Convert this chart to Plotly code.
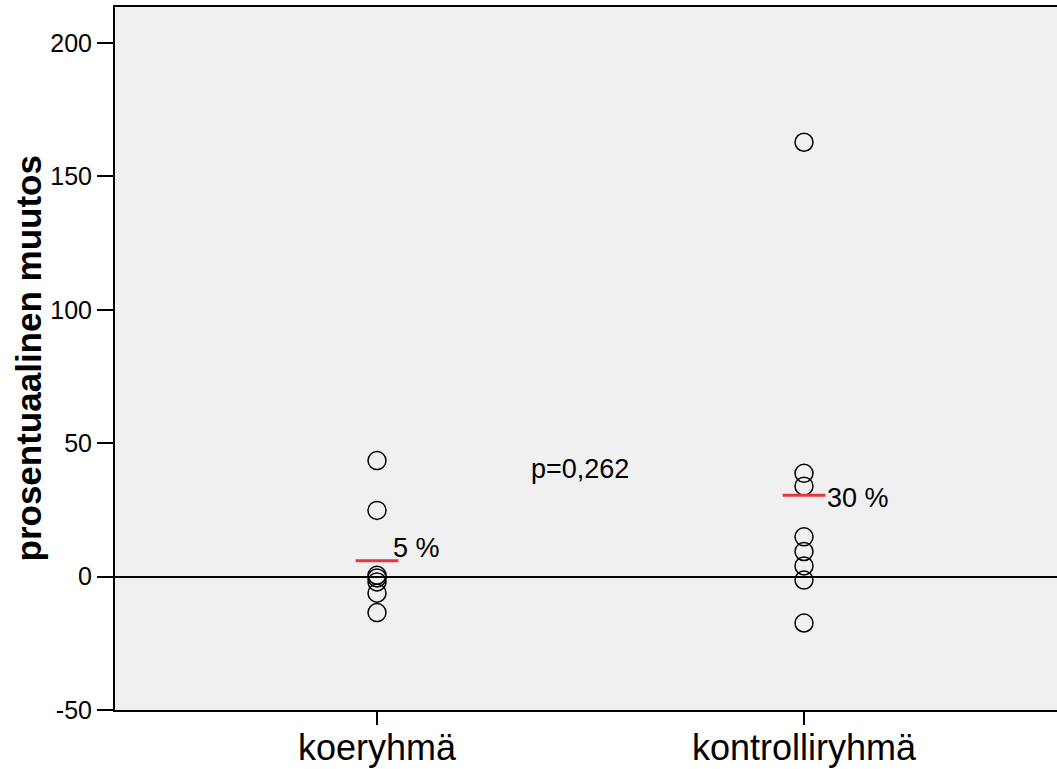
import plotly.graph_objects as go

categories = ["koeryhmä", "kontrolliryhmä"]
koe_values = [43.5, 24.8, 0.5, -0.5, -2.0, -6.2, -13.5]
kontrolli_values = [162.8, 38.7, 33.9, 14.9, 9.4, 4.0, -1.3, -17.4]
group_means = [5.9, 30.5]
mean_labels = ["5 %", "30 %"]
p_label = "p=0,262"
y_ticks = [-50, 0, 50, 100, 150, 200]
y_title = "prosentuaalinen muutos"

FONT = "Liberation Sans, Arial, sans-serif"
W, H = 1057, 769
ML, MR, MT, MB = 115, 0, 7, 59
PW = W - ML - MR
PH = H - MT - MB

fig = go.Figure()

for i, vals in enumerate([koe_values, kontrolli_values]):
    fig.add_trace(go.Scatter(
        x=[i] * len(vals), y=vals, mode="markers",
        marker=dict(symbol="circle-open", size=18, color="black",
                    line=dict(width=1.5, color="black")),
        showlegend=False, hoverinfo="y"))

half = 0.05
label_xshift = [-7, 0]
label_yanchor = ["bottom", "middle"]
label_yshift = [-4, -3]
for i, m in enumerate(group_means):
    fig.add_trace(go.Scatter(
        x=[i - half, i + half], y=[m, m], mode="lines",
        line=dict(color="#e8343f", width=3),
        showlegend=False, hoverinfo="skip"))
    fig.add_annotation(x=i + half, y=m, text=mean_labels[i],
                       xanchor="left", yanchor=label_yanchor[i],
                       showarrow=False, xshift=label_xshift[i], yshift=label_yshift[i],
                       font=dict(family=FONT, size=27, color="black"))

fig.add_annotation(x=0.475, y=40.3, text=p_label, showarrow=False,
                   xanchor="center", yanchor="middle",
                   font=dict(family=FONT, size=27, color="black"))

# category labels
for i, c in enumerate(categories):
    fig.add_annotation(x=i, xref="x", y=-15 / PH,
                       yref="paper", text=c, showarrow=False,
                       xanchor="center", yanchor="top",
                       font=dict(family=FONT, size=36, color="black"))

# y axis title
fig.add_annotation(x=(28 - ML) / PW, xref="paper", y=0.5, yref="paper",
                   text="<b>" + y_title + "</b>", textangle=-90, showarrow=False,
                   xanchor="center", yanchor="middle",
                   font=dict(family=FONT, size=35, color="black"))

fig.update_layout(
    width=W, height=H,
    margin=dict(l=ML, r=MR, t=MT, b=MB),
    paper_bgcolor="white", plot_bgcolor="#f0f0f0",
    font=dict(family=FONT, color="black"),
    xaxis=dict(
        range=[-0.6136, 1.5925], tickvals=[0, 1], ticktext=["", ""],
        showgrid=False, zeroline=False, automargin=False,
        showline=True, linecolor="black", linewidth=2, mirror=True,
        ticks="outside", ticklen=13, tickwidth=1.5, tickcolor="black",
    ),
    yaxis=dict(
        range=[-50, 213.5], tickvals=y_ticks, ticktext=[str(v) for v in y_ticks],
        showgrid=False, automargin=False,
        zeroline=True, zerolinecolor="black", zerolinewidth=1.5,
        showline=True, linecolor="black", linewidth=2,
        ticks="outside", ticklen=16, tickwidth=1.5, tickcolor="black",
        tickfont=dict(family=FONT, size=25, color="black"),
    ),
)

fig.write_html("out.html", config={"displayModeBar": False},
               post_script="document.body.style.margin='0';")
